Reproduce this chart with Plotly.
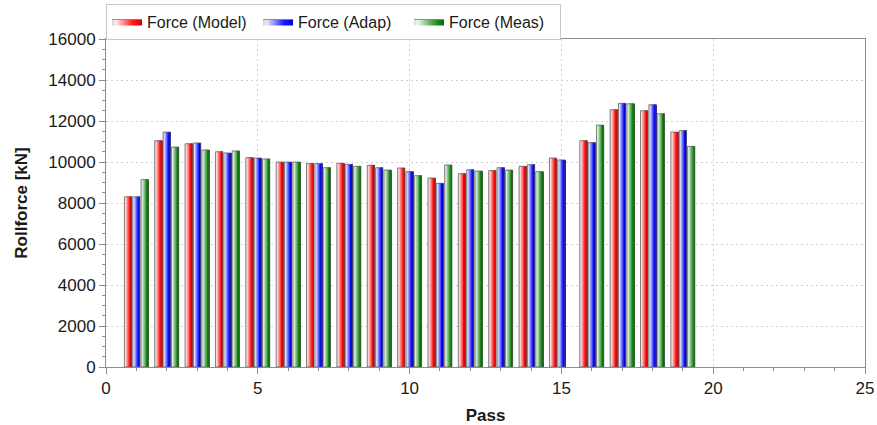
import plotly.graph_objects as go

# Roll force per pass: model prediction, adapted model and measurement [kN]
passes = list(range(1, 20))
force_model = [8300, 11040, 10890, 10500, 10210, 10000, 9920, 9935, 9840, 9710,
               9220, 9430, 9580, 9790, 10195, 11040, 12550, 12500, 11460]
force_adap = [8300, 11460, 10930, 10440, 10195, 10000, 9920, 9885, 9720, 9530,
              8960, 9620, 9720, 9870, 10100, 10940, 12860, 12790, 11530]
force_meas = [9140, 10730, 10590, 10540, 10150, 10000, 9720, 9790, 9610, 9330,
              9855, 9560, 9610, 9530, None, 11800, 12840, 12350, 10760]

series = [
    ("Force (Model)", force_model,
     [(0.0, (222, 206, 206)), (0.12, (255, 236, 236)), (0.7, (255, 25, 25)), (1.0, (205, 0, 0))]),
    ("Force (Adap)", force_adap,
     [(0.0, (206, 206, 222)), (0.12, (236, 236, 255)), (0.7, (25, 25, 255)), (1.0, (0, 0, 205))]),
    ("Force (Meas)", force_meas,
     [(0.0, (212, 222, 212)), (0.12, (236, 246, 236)), (0.7, (45, 150, 45)), (1.0, (0, 105, 0))]),
]

BAR_W = 0.24     # width of one bar in pass units
STEP = 0.275     # distance between neighbouring bars of a group
N_SLICES = 9     # horizontal gradient steps per bar


def blend(stops, t):
    for (t0, c0), (t1, c1) in zip(stops, stops[1:]):
        if t <= t1:
            f = (t - t0) / (t1 - t0) if t1 > t0 else 0
            return "rgb(%d,%d,%d)" % tuple(round(a + (b - a) * f) for a, b in zip(c0, c1))
    return "rgb(%d,%d,%d)" % stops[-1][1]


fig = go.Figure()

for k, (name, values, stops) in enumerate(series):
    left = (k - 1) * STEP - BAR_W / 2
    # gradient: each slice runs from its start to the right edge, later ones on top
    for j in range(N_SLICES):
        start = left + BAR_W * j / N_SLICES
        fig.add_trace(go.Bar(
            x=passes, y=values, width=BAR_W * (N_SLICES - j) / N_SLICES, offset=start,
            marker=dict(color=blend(stops, (j + 0.5) / N_SLICES), line=dict(width=0)),
            showlegend=False, hoverinfo="skip",
        ))
    # thin outline around each bar
    fig.add_trace(go.Bar(
        x=passes, y=values, width=BAR_W, offset=left, name=name,
        marker=dict(color="rgba(0,0,0,0)", line=dict(color="rgba(90,90,90,0.75)", width=1)),
        showlegend=False, hovertemplate=name + ": %{y}<extra></extra>",
    ))
    # legend entry with the gradient swatch
    fig.add_trace(go.Scatter(
        x=[None], y=[None], mode="lines", name=name, fill="toself",
        line=dict(color="rgba(120,120,120,0.8)", width=1),
        fillgradient=dict(type="horizontal",
                          colorscale=[[t, "rgb(%d,%d,%d)" % c] for t, c in stops]),
    ))

axis_font = dict(family="Liberation Sans, Arial, sans-serif", size=17, color="#1a1a1a")
title_font = dict(family="Liberation Sans, Arial, sans-serif", size=17, color="#1a1a1a")

fig.update_layout(
    width=877, height=425,
    margin=dict(l=106, r=12, t=39, b=58, autoexpand=False),
    paper_bgcolor="white", plot_bgcolor="white",
    barmode="overlay",
    showlegend=True,
    legend=dict(
        orientation="h", x=0.0, y=1.108, xanchor="left", yanchor="top",
        bgcolor="white", bordercolor="#c8c8c8", borderwidth=1,
        font=dict(family="Liberation Sans, Arial, sans-serif", size=16, color="#1a1a1a"),
        entrywidth=106, entrywidthmode="pixels", tracegroupgap=0,
    ),
    xaxis=dict(
        range=[0, 25], dtick=5, tick0=0, automargin=False,
        showline=True, linecolor="#8c8c8c", linewidth=1, mirror=True,
        ticks="outside", ticklen=6, tickcolor="#8c8c8c",
        minor=dict(dtick=1, ticks="outside", ticklen=3, tickcolor="#8c8c8c", showgrid=False),
        showgrid=True, gridcolor="#d0d0d0", griddash="2px,3px", gridwidth=1,
        zeroline=False,
        tickfont=axis_font,
        title=dict(text="<b>Pass</b>", font=title_font, standoff=15),
    ),
    yaxis=dict(
        range=[0, 16000], dtick=2000, tick0=0, tickformat="d", automargin=False,
        showline=True, linecolor="#8c8c8c", linewidth=1, mirror=True,
        ticks="outside", ticklen=6, tickcolor="#8c8c8c",
        minor=dict(dtick=500, ticks="outside", ticklen=3, tickcolor="#8c8c8c", showgrid=False),
        showgrid=True, gridcolor="#d0d0d0", griddash="2px,3px", gridwidth=1,
        zeroline=False,
        tickfont=axis_font,
        title=dict(text="<b>Rollforce [kN]</b>", font=title_font, standoff=16),
    ),
)

fig.write_html("out.html")
